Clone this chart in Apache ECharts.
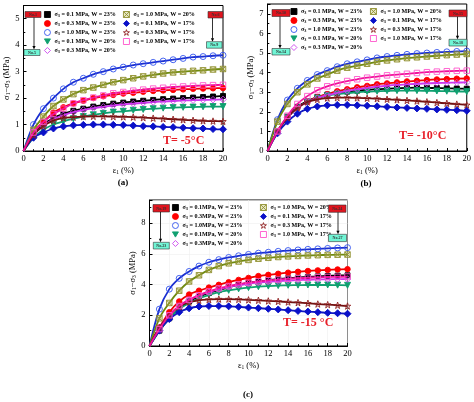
<!DOCTYPE html>
<html><head><meta charset="utf-8">
<script src="https://cdn.jsdelivr.net/npm/echarts@6/dist/echarts.min.js"></script>
<style>html,body{margin:0;padding:0;background:#fff}#c{width:474px;height:402px}</style>
</head><body><div id="c"></div>
<script>
// ---- data ----
const strain = [0,1,2,3,4,5,6,7,8,9,10,11,12,13,14,15,16,17,18,19,20];
const xTicks = [0,2,4,6,8,10,12,14,16,18,20];

// Panel (a) T = -5 C
const a_s01_w23 = [0,0.6,1.0,1.25,1.4,1.52,1.6,1.68,1.74,1.79,1.83,1.87,1.9,1.93,1.96,1.98,2.0,2.02,2.04,2.06,2.08];
const a_s03_w23 = [0,0.7,1.1,1.45,1.65,1.8,1.9,2.0,2.07,2.12,2.17,2.2,2.24,2.27,2.29,2.31,2.33,2.35,2.36,2.37,2.38];
const a_s10_w23 = [0,1.0,1.6,2.0,2.35,2.6,2.75,2.9,3.0,3.1,3.17,3.25,3.3,3.35,3.4,3.45,3.5,3.55,3.57,3.6,3.62];
const a_s01_w20 = [0,0.5,0.8,1.0,1.12,1.22,1.3,1.37,1.42,1.47,1.5,1.54,1.57,1.6,1.62,1.64,1.65,1.66,1.67,1.68,1.68];
const a_s03_w20 = [0,0.6,0.95,1.2,1.35,1.47,1.55,1.62,1.67,1.72,1.76,1.79,1.82,1.85,1.87,1.89,1.91,1.92,1.93,1.94,1.95];
const a_s10_w20 = [0,0.8,1.3,1.7,1.95,2.15,2.3,2.4,2.5,2.6,2.68,2.75,2.82,2.88,2.93,2.97,3.0,3.03,3.05,3.08,3.1];
const a_s01_w17 = [0,0.5,0.7,0.85,0.93,0.97,0.99,1.0,1.0,0.99,0.98,0.96,0.94,0.93,0.91,0.9,0.88,0.86,0.85,0.83,0.82];
const a_s03_w17 = [0,0.6,0.95,1.15,1.25,1.28,1.3,1.31,1.31,1.3,1.29,1.28,1.26,1.24,1.22,1.2,1.18,1.16,1.14,1.13,1.12];
const a_s10_w17 = [0,0.7,1.1,1.4,1.6,1.8,1.92,2.02,2.1,2.18,2.23,2.28,2.32,2.36,2.39,2.42,2.44,2.46,2.48,2.49,2.5];

// Panel (b) T = -10 C
const b_s01_w23 = [0,1.0,1.75,2.25,2.55,2.75,2.88,2.97,3.03,3.08,3.12,3.15,3.18,3.2,3.22,3.23,3.22,3.21,3.2,3.19,3.18];
const b_s03_w23 = [0,1.0,1.7,2.2,2.5,2.75,2.9,3.05,3.15,3.25,3.32,3.4,3.45,3.5,3.55,3.58,3.62,3.65,3.67,3.69,3.7];
const b_s10_w23 = [0,1.6,2.6,3.2,3.6,3.9,4.1,4.3,4.45,4.55,4.65,4.75,4.82,4.88,4.93,4.97,5.0,5.03,5.06,5.08,5.1];
const b_s01_w20 = [0,1.0,1.7,2.2,2.5,2.7,2.82,2.9,2.96,3.0,3.03,3.05,3.07,3.08,3.08,3.08,3.07,3.06,3.05,3.04,3.03];
const b_s03_w20 = [0,1.0,1.7,2.2,2.5,2.7,2.85,2.97,3.07,3.15,3.22,3.28,3.33,3.37,3.4,3.43,3.45,3.47,3.48,3.49,3.5];
const b_s10_w20 = [0,1.5,2.4,3.0,3.4,3.7,3.9,4.1,4.25,4.35,4.45,4.55,4.62,4.68,4.74,4.78,4.82,4.86,4.89,4.92,4.95];
const b_s01_w17 = [0,0.9,1.5,1.9,2.15,2.27,2.33,2.35,2.35,2.33,2.31,2.28,2.25,2.22,2.2,2.17,2.15,2.12,2.1,2.08,2.05];
const b_s03_w17 = [0,1.0,1.7,2.2,2.5,2.63,2.7,2.72,2.72,2.71,2.69,2.67,2.64,2.61,2.58,2.55,2.51,2.47,2.43,2.39,2.35];
const b_s10_w17 = [0,1.0,1.8,2.4,2.8,3.1,3.3,3.45,3.57,3.66,3.74,3.8,3.86,3.9,3.94,3.98,4.02,4.05,4.07,4.09,4.1];

// Panel (c) T = -15 C
const c_s01_w23 = [0,1.0,1.8,2.4,2.9,3.2,3.45,3.65,3.82,3.97,4.1,4.2,4.28,4.35,4.41,4.46,4.5,4.53,4.56,4.58,4.6];
const c_s03_w23 = [0,1.2,2.2,2.9,3.35,3.6,3.8,3.98,4.15,4.3,4.43,4.55,4.63,4.7,4.77,4.83,4.88,4.92,4.95,4.98,5.0];
const c_s10_w23 = [0,2.4,3.7,4.4,4.85,5.2,5.45,5.62,5.76,5.87,5.96,6.04,6.1,6.16,6.21,6.25,6.29,6.32,6.35,6.38,6.4];
const c_s01_w20 = [0,1.0,1.8,2.4,2.8,3.1,3.32,3.5,3.62,3.72,3.8,3.86,3.9,3.93,3.95,3.96,3.97,3.97,3.97,3.96,3.95];
const c_s03_w20 = [0,1.2,2.0,2.6,3.0,3.3,3.5,3.7,3.85,3.96,4.05,4.12,4.18,4.22,4.26,4.29,4.31,4.33,4.34,4.35,4.36];
const c_s10_w20 = [0,1.8,2.8,3.6,4.2,4.6,4.95,5.2,5.38,5.5,5.6,5.68,5.74,5.79,5.83,5.86,5.89,5.91,5.93,5.94,5.95];
const c_s01_w17 = [0,1.0,1.75,2.2,2.45,2.57,2.6,2.6,2.58,2.55,2.5,2.46,2.42,2.38,2.33,2.28,2.24,2.2,2.16,2.13,2.1];
const c_s03_w17 = [0,1.2,2.0,2.55,2.85,2.97,3.02,3.05,3.05,3.03,3.0,2.97,2.93,2.9,2.86,2.82,2.78,2.73,2.69,2.65,2.6];
const c_s10_w17 = [0,1.1,2.0,2.6,3.0,3.3,3.55,3.75,3.9,4.02,4.12,4.2,4.27,4.32,4.37,4.41,4.44,4.47,4.49,4.5,4.52];

const namesAB = ['σ3 = 0.1 MPa, W = 23%','σ3 = 0.3 MPa, W = 23%','σ3 = 1.0 MPa, W = 23%','σ3 = 0.1 MPa, W = 20%','σ3 = 0.3 MPa, W = 20%','σ3 = 1.0 MPa, W = 20%','σ3 = 0.1 MPa, W = 17%','σ3 = 0.3 MPa, W = 17%','σ3 = 1.0 MPa, W = 17%'];
const namesC = ['σ3 = 0.1MPa, W = 23%','σ3 = 0.3MPa, W = 23%','σ3 = 1.0MPa, W = 23%','σ3 = 0.1MPa, W = 20%','σ3 = 0.3MPa, W = 20%','σ3 = 1.0 MPa, W = 20%','σ3 = 0.1 MPa, W = 17%','σ3 = 0.3 MPa, W = 17%','σ3 = 1.0 MPa, W = 17%'];
const tempLabels = ['T= -5°C','T= -10°C','T= -15 °C'];
const panelLabels = ['(a)','(b)','(c)'];
const tagsA = ['No.1','No.5','No.6','No.9'];
const tagsB = ['No.10','No.14','No.15','No.18'];
const tagsC = ['No.19','No.23','No.24','No.27'];

// ---- styles ----
const NONE = 'rgba(255,255,255,0)';
const STAR = 'path://M5,0L6.2,3.6L10,3.6L6.9,5.9L8.1,9.5L5,7.3L1.9,9.5L3.1,5.9L0,3.6L3.8,3.6Z';
const XBOX = 'path://M0,0L10,0L10,10L0,10Z M0,0L10,10 M10,0L0,10';
const DTRI = 'path://M0,0L10,0L5,8.7Z';
const styles = [
  {symbol:'rect',    size:5,   fill:'#000000', stroke:'#000000', line:'#000000'},
  {symbol:'circle',  size:5.5, fill:'#ff0000', stroke:'#ff0000', line:'#ee0000'},
  {symbol:'circle',  size:6,   fill:NONE,      stroke:'#3355ee', line:'#1a2ed0'},
  {symbol:DTRI,      size:6,   fill:'#10a070', stroke:'#10a070', line:'#10a070'},
  {symbol:'diamond', size:6.5, fill:NONE,      stroke:'#cc44ee', line:'#cc33ee'},
  {symbol:XBOX,      size:5.5, fill:'rgba(190,190,90,0.35)', stroke:'#909030', line:'#6e8a10'},
  {symbol:'diamond', size:7,   fill:'#0a10c8', stroke:'#0a10c8', line:'#1018c0'},
  {symbol:STAR,      size:6.5, fill:NONE,      stroke:'#902020', line:'#701010'},
  {symbol:'rect',    size:5.5, fill:NONE,      stroke:'#ff55cc', line:'#f0109a'}
];

const panels = [
  {data:[a_s01_w23,a_s03_w23,a_s10_w23,a_s01_w20,a_s03_w20,a_s10_w20,a_s01_w17,a_s03_w17,a_s10_w17], names:namesAB,
   grid:{left:23.5, top:5.5, width:199.5, height:145.5}, ymax:5.5, yint:1,
   leg1:{left:44, top:11}, leg2:{left:123, top:11}},
  {data:[b_s01_w23,b_s03_w23,b_s10_w23,b_s01_w20,b_s03_w20,b_s10_w20,b_s01_w17,b_s03_w17,b_s10_w17], names:namesAB,
   grid:{left:267.5, top:4, width:199.5, height:147}, ymax:7.5, yint:1,
   leg1:{left:290.5, top:8}, leg2:{left:370, top:8}},
  {data:[c_s01_w23,c_s03_w23,c_s10_w23,c_s01_w20,c_s03_w20,c_s10_w20,c_s01_w17,c_s03_w17,c_s10_w17], names:namesC,
   grid:{left:149.5, top:200, width:198, height:146}, ymax:9.5, yint:2,
   leg1:{left:172, top:204}, leg2:{left:260, top:204}}
];

const FONT = 'Liberation Serif';
const legendRich = {
  g:{fontFamily:FONT, fontWeight:'bold', fontSize:6.1, color:'#000', lineHeight:8},
  sub:{fontFamily:FONT, fontWeight:'bold', fontSize:4.3, color:'#000', lineHeight:8, padding:[3,0,0,0]},
  t:{fontFamily:FONT, fontWeight:'bold', fontSize:6.1, color:'#000', lineHeight:8}
};
const nameRich = {
  a:{fontFamily:FONT, fontSize:8.5, color:'#000'},
  s:{fontFamily:FONT, fontSize:5.5, color:'#000', padding:[4,0,0,0]}
};

const grids=[], xAxes=[], yAxes=[], series=[], legends=[];
panels.forEach((p, pi) => {
  grids.push(Object.assign({show:true, borderColor:'#000', borderWidth:1, containLabel:false}, p.grid));
  xAxes.push({gridIndex:pi, type:'value', min:0, max:20, interval:2,
    axisLine:{show:true, onZero:false, lineStyle:{color:'#000', width:1}},
    axisTick:{show:true, inside:true, length:3, lineStyle:{color:'#000'}},
    minorTick:{show:true, splitNumber:2, length:1.8, lineStyle:{color:'#000'}},
    axisLabel:{color:'#000', fontFamily:FONT, fontSize:8.5, margin:3, formatter:v => xTicks.includes(v) ? String(v) : ''},
    splitLine:{show: pi===2, lineStyle:{color:'#eeeeee', width:0.6}},
    name:'{a|ε}{s|1}{a| (%)}', nameLocation:'middle', nameGap:15, nameTextStyle:{rich:nameRich}});
  yAxes.push({gridIndex:pi, type:'value', min:0, max:p.ymax, interval:p.yint,
    axisLine:{show:true, onZero:false, lineStyle:{color:'#000', width:1}},
    axisTick:{show:true, inside:true, length:3, lineStyle:{color:'#000'}},
    minorTick:{show:true, splitNumber:2, length:1.8, lineStyle:{color:'#000'}},
    axisLabel:{color:'#000', fontFamily:FONT, fontSize:8.5, margin:4, formatter:v => (v % p.yint === 0) ? String(v) : ''},
    splitLine:{show: pi===2, lineStyle:{color:'#eeeeee', width:0.6}},
    name:'{a|σ}{s|1}{a|−σ}{s|3}{a| (MPa)}', nameLocation:'middle', nameGap:11, nameTextStyle:{rich:nameRich}});
  p.data.forEach((arr, j) => {
    const st = styles[j];
    series.push({type:'line', name:p.names[j], xAxisIndex:pi, yAxisIndex:pi,
      data: strain.map((x, i) => [x, arr[i]]),
      smooth:0.35, symbol:st.symbol,
      symbolSize:(v) => v[0] === 0 ? 0 : st.size,
      showAllSymbol:true,
      itemStyle:{color:st.fill, borderColor:st.stroke, borderWidth:0.9},
      lineStyle:{color:st.line, width:1.8},
      emphasis:{disabled:true}, animation:false, z:2+j});
  });
  const mk = (idxs, pos) => ({
    orient:'vertical', left:pos.left, top:pos.top, padding:0, itemGap:2,
    itemWidth:6, itemHeight:6, selectedMode:false,
    data: idxs.map(j => ({name:p.names[j], icon:styles[j].symbol,
      itemStyle:{color:styles[j].fill, borderColor:styles[j].stroke, borderWidth:0.9}})),
    formatter: n => '{g|σ}{sub|3}{t|' + n.slice(2) + '}',
    textStyle:{rich:legendRich, padding:[0,0,0,-1]}
  });
  legends.push(mk([0,1,2,3,4], p.leg1));
  legends.push(mk([5,6,7,8], p.leg2));
});

// ---- annotations (tags, arrows, labels) ----
const graphics = [];
function tag(x, y, w, h, fill, txt){
  graphics.push({type:'rect', shape:{x:x, y:y, width:w, height:h}, style:{fill:fill, stroke:'#333', lineWidth:0.6}, z:100});
  graphics.push({type:'text', x:x + w/2, y:y + h/2 + 0.3, style:{text:txt, fill:'#333', font:'bold 4px "Liberation Serif"', textAlign:'center', textVerticalAlign:'middle', align:'center', verticalAlign:'middle'}, z:101});
}
function arrow(x, y1, y2){
  graphics.push({type:'line', shape:{x1:x, y1:y1, x2:x, y2:y2 - 3}, style:{stroke:'#000', lineWidth:0.8}, z:100});
  graphics.push({type:'polygon', shape:{points:[[x - 1.6, y2 - 3.5],[x + 1.6, y2 - 3.5],[x, y2]]}, style:{fill:'#000'}, z:100});
}
const RED = '#e0141e', CYAN = '#70f5d5';
// (a)
tag(25, 11.5, 16, 6, RED, tagsA[0]); arrow(34, 17.5, 49.5); tag(24, 49.5, 16, 6, CYAN, tagsA[1]);
tag(208, 11.5, 15, 6.5, RED, tagsA[2]); arrow(212.5, 18, 41.7); tag(206.5, 41.7, 15.5, 6.5, CYAN, tagsA[3]);
// (b)
tag(272, 9.5, 18, 7, RED, tagsB[0]); arrow(280, 16.5, 48.5); tag(272, 48.5, 18, 6.5, CYAN, tagsB[1]);
tag(449, 10, 18, 6.7, RED, tagsB[2]); arrow(457.5, 16.7, 39.3); tag(449, 39.3, 18, 6.7, CYAN, tagsB[3]);
// (c)
tag(153, 204.5, 16.5, 7.5, RED, tagsC[0]); arrow(160.5, 212, 242.3); tag(153.3, 242.3, 16, 6.7, CYAN, tagsC[1]);
tag(328.5, 205, 17.5, 7.3, RED, tagsC[2]); arrow(338, 212.3, 234.3); tag(328.5, 234.3, 18, 7.3, CYAN, tagsC[3]);

const tPos = [[163, 141],[399, 136],[283, 323]];
tPos.forEach((pt, i) => graphics.push({type:'text', x:pt[0], y:pt[1],
  style:{text:tempLabels[i], fill:'#e8202a', font:'bold 12px "Liberation Serif"', textVerticalAlign:'middle', verticalAlign:'middle'}, z:100}));
const lPos = [[123, 183],[366, 184],[248, 395]];
lPos.forEach((pt, i) => graphics.push({type:'text', x:pt[0], y:pt[1],
  style:{text:panelLabels[i], fill:'#000', font:'bold 9px "Liberation Serif"', textAlign:'center', textVerticalAlign:'middle', align:'center', verticalAlign:'middle'}, z:100}));

const chart = echarts.init(document.getElementById('c'), null, {renderer:'canvas'});
chart.setOption({
  backgroundColor:'#fff', animation:false,
  grid:grids, xAxis:xAxes, yAxis:yAxes, series:series, legend:legends, graphic:graphics
});
</script></body></html>
